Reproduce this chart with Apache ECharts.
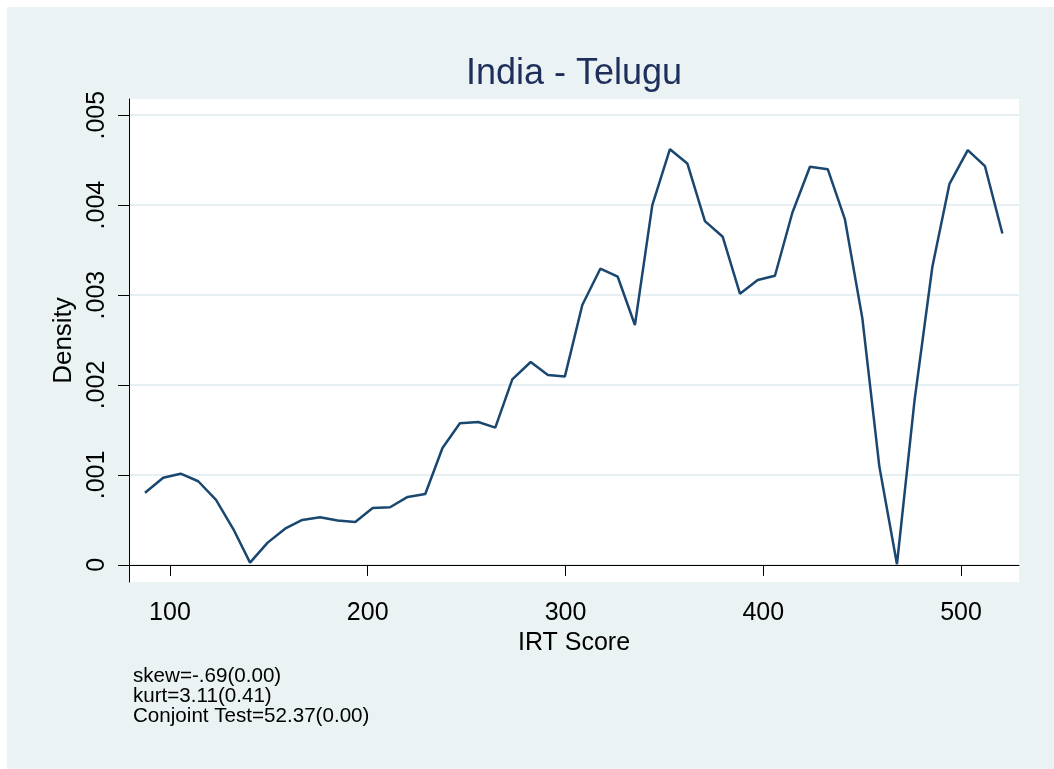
<!DOCTYPE html>
<html>
<head>
<meta charset="utf-8">
<title>India - Telugu</title>
<script src="https://cdn.jsdelivr.net/npm/echarts@6/dist/echarts.min.js"></script>
<style>
  html, body { margin: 0; padding: 0; background: #fff; }
  #chart { position: absolute; left: 7px; top: 7px; width: 1047px; height: 762px; }
</style>
</head>
<body>
<div id="chart"></div>
<script>
// IRT score grid of the density estimate
var irtScore = [87.4, 96.6, 105.4, 114.3, 123.3, 132.1, 140.5, 149.4, 158.2, 166.9,
  175.9, 184.8, 193.7, 202.5, 211.3, 220.2, 229.1, 237.8, 246.6, 255.9,
  264.5, 273.1, 282.4, 291.1, 299.7, 308.5, 317.6, 326.4, 335.1, 343.9,
  352.8, 361.6, 370.5, 379.5, 388.2, 397.2, 405.9, 414.7, 423.6, 432.6,
  441.3, 450.1, 458.7, 467.6, 476.5, 485.5, 494.1, 503.4, 512.1, 520.9];

var density = [0.000803, 0.000970, 0.001014, 0.000930, 0.000722, 0.000396, 0.000026, 0.000248, 0.000403, 0.000500,
  0.000530, 0.000493, 0.000478, 0.000633, 0.000641, 0.000756, 0.000789, 0.001300, 0.001574, 0.001589,
  0.001526, 0.002063, 0.002256, 0.002111, 0.002096, 0.002889, 0.003293, 0.003204, 0.002667, 0.004000,
  0.004622, 0.004463, 0.003822, 0.003648, 0.003015, 0.003167, 0.003215, 0.003915, 0.004426, 0.004400,
  0.003841, 0.002741, 0.001093, 0.000008, 0.001833, 0.003315, 0.004233, 0.004611, 0.004433, 0.003685];

var xTicks = [100, 200, 300, 400, 500];
var yTicks = [0, 0.001, 0.002, 0.003, 0.004, 0.005];

var notes = ['skew=-.69(0.00)', 'kurt=3.11(0.41)', 'Conjoint Test=52.37(0.00)'];

var seriesData = irtScore.map(function (x, i) { return [x, density[i]]; });

var font = '"Liberation Sans", Arial, sans-serif';

var option = {
  backgroundColor: '#eaf2f3',
  animation: false,
  title: {
    text: 'India - Telugu',
    left: 567,
    top: 49,
    textAlign: 'center',
    padding: 0,
    textStyle: { fontFamily: font, fontSize: 36, fontWeight: 'normal', color: '#1e2f5c' }
  },
  grid: {
    left: 122, right: 35, top: 92, bottom: 187,
    show: true, backgroundColor: '#fff', borderWidth: 0
  },
  xAxis: {
    type: 'value',
    min: 79.3,
    max: 529.3,
    name: 'IRT Score',
    nameLocation: 'middle',
    nameGap: 43,
    nameTextStyle: { fontFamily: font, fontSize: 25, color: '#000' },
    axisLine: { show: true, lineStyle: { color: '#000', width: 1 } },
    axisTick: { show: true, length: 11, customValues: xTicks, lineStyle: { color: '#000' } },
    axisLabel: { customValues: xTicks, margin: 19, fontFamily: font, fontSize: 25, color: '#000' },
    splitLine: { show: false }
  },
  yAxis: {
    type: 'value',
    min: -0.00019,
    max: 0.00518,
    name: 'Density',
    nameLocation: 'middle',
    nameGap: 44,
    nameTextStyle: { fontFamily: font, fontSize: 26, color: '#000' },
    axisLine: { show: true, lineStyle: { color: '#000', width: 1 } },
    axisTick: { show: true, length: 11, customValues: yTicks, lineStyle: { color: '#000' } },
    axisLabel: {
      customValues: yTicks,
      rotate: 90,
      margin: 19,
      fontFamily: font,
      fontSize: 25,
      color: '#000',
      formatter: function (v) { return v === 0 ? '0' : v.toFixed(3).replace(/^0/, ''); }
    },
    splitLine: { show: true, lineStyle: { color: '#e6eff1', width: 2 } }
  },
  graphic: [{
    type: 'text',
    left: 126,
    top: 659,
    style: {
      text: notes.join('\n'),
      fontFamily: font,
      fontSize: 20.6,
      lineHeight: 20,
      fill: '#000'
    }
  }],
  series: [{
    type: 'line',
    data: seriesData,
    symbol: 'none',
    lineStyle: { color: '#1a476f', width: 2.5 },
    itemStyle: { color: '#1a476f' }
  }]
};

var chart = echarts.init(document.getElementById('chart'));
chart.setOption(option);
</script>
</body>
</html>
